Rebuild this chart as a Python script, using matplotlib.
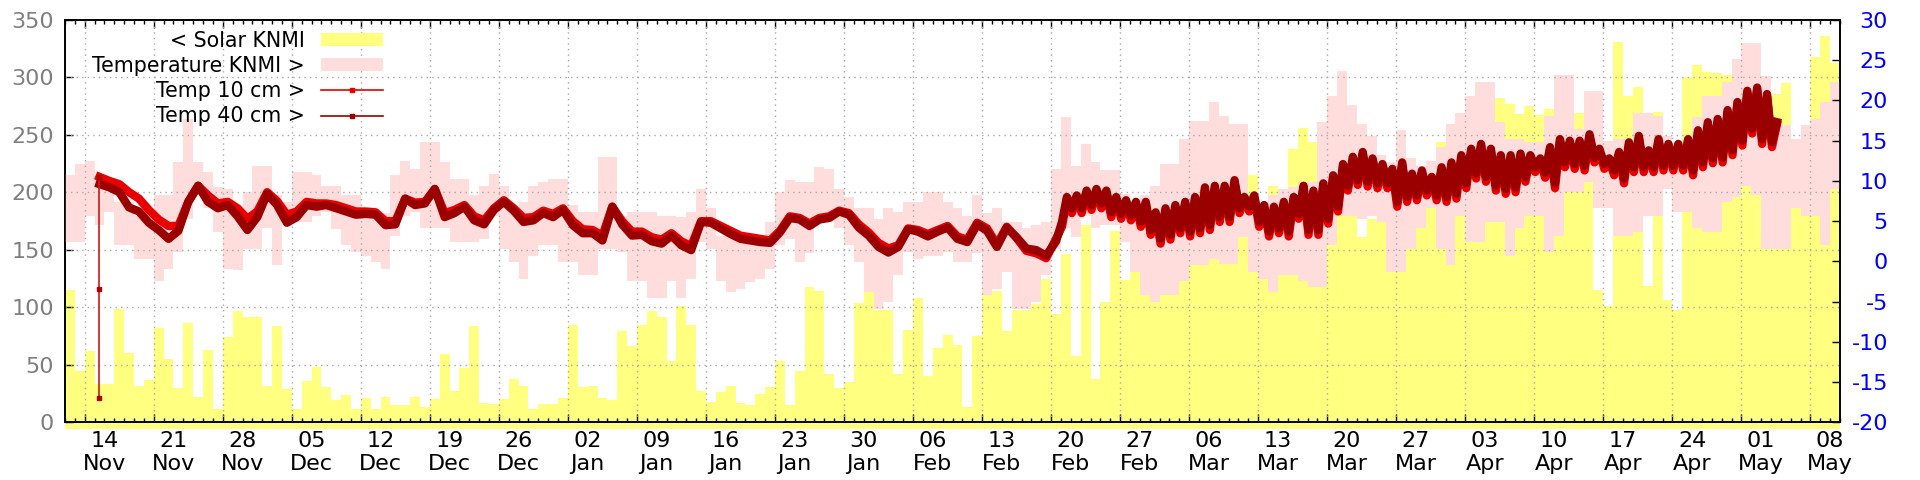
import numpy as np
import matplotlib
matplotlib.use('Agg')
import matplotlib.pyplot as plt
import matplotlib.dates as mdates
import matplotlib.transforms as mtransforms
from matplotlib.patches import Patch
from matplotlib.lines import Line2D

plt.rcParams['font.family'] = ['DejaVu Sans']
plt.rcParams['axes.unicode_minus'] = False

# daily values starting 2022-11-10
START = np.datetime64('2022-11-10')

# solar radiation KNMI (left axis), one value per day
solar = [
    115, 45, 62, 33, 33, 99, 60, 32, 37, 82,
    55, 30, 86, 22, 63, 12, 74, 97, 92, 92,
    32, 84, 29, 12, 36, 48, 31, 19, 24, 12,
    21, 12, 22, 15, 15, 22, 13, 20, 59, 27,
    47, 84, 17, 16, 20, 38, 32, 12, 16, 16,
    21, 85, 31, 32, 21, 19, 79, 66, 85, 97,
    92, 53, 101, 85, 27, 18, 26, 32, 17, 15,
    25, 31, 53, 15, 45, 118, 114, 42, 30, 35,
    104, 113, 98, 98, 42, 80, 108, 40, 65, 76,
    67, 13, 75, 114, 114, 79, 98, 98, 103, 125,
    94, 146, 58, 172, 38, 105, 166, 124, 145, 135,
    120, 125, 128, 130, 140, 155, 148, 145, 145, 165,
    215, 140, 206, 130, 238, 256, 244, 120, 160, 185,
    190, 161, 177, 177, 150, 253, 225, 223, 225, 244,
    258, 265, 250, 240, 275, 282, 277, 268, 275, 267,
    273, 250, 200, 269, 240, 115, 101, 331, 284, 292,
    119, 270, 106, 98, 300, 311, 305, 304, 302, 300,
    290, 280, 300, 286, 295, 235, 240, 318, 336, 313,
]

# air temperature KNMI, daily max / min (right axis)
temp_max = [
    10.7, 12.1, 12.5, 10.3, 9.0, 7.4, 7.4, 5.7, 5.7, 8.2,
    8.2, 12.3, 17.7, 12.3, 11.1, 9.2, 9.0, 6.6, 8.6, 11.9,
    11.9, 8.2, 7.4, 11.1, 11.1, 10.7, 9.4, 9.4, 8.2, 8.2,
    6.1, 5.7, 6.0, 10.7, 12.5, 11.5, 14.8, 14.8, 12.3, 10.3,
    10.3, 8.2, 9.4, 10.9, 9.4, 6.6, 7.4, 9.4, 9.9, 10.3,
    10.3, 7.0, 6.1, 6.1, 13.0, 13.0, 5.7, 6.1, 6.1, 6.1,
    5.7, 5.7, 5.5, 6.1, 9.0, 6.6, 3.2, 3.6, 3.4, 3.2,
    3.2, 4.9, 8.6, 10.1, 9.9, 9.9, 11.7, 11.5, 9.0, 8.0,
    6.6, 6.6, 5.3, 6.6, 6.1, 7.4, 7.4, 8.6, 8.6, 7.4,
    6.6, 5.7, 8.2, 6.0, 6.6, 4.9, 4.9, 4.1, 4.5, 4.9,
    11.5, 17.9, 11.9, 14.6, 12.3, 11.3, 11.3, 8.4, 6.6, 8.2,
    9.4, 12.1, 12.1, 15.2, 17.5, 17.5, 19.8, 18.1, 17.1, 17.1,
    7.4, 7.4, 8.2, 9.0, 9.2, 9.9, 9.9, 17.3, 20.6, 23.7,
    19.4, 17.1, 15.6, 13.2, 12.3, 16.3, 12.8, 11.9, 12.5, 14.2,
    17.1, 18.5, 20.6, 22.3, 22.3, 17.3, 15.2, 15.2, 14.8, 14.8,
    18.1, 23.2, 23.2, 16.5, 21.2, 21.2, 15.0, 15.2, 15.2, 18.5,
    18.5, 18.1, 15.6, 12.8, 12.8, 18.0, 20.6, 20.6, 22.3, 25.2,
    27.2, 27.2, 23.1, 16.9, 16.9, 15.2, 16.9, 17.7, 19.8, 22.3,
]
temp_min = [
    2.4, 2.4, 5.7, 4.5, 6.1, 2.0, 2.0, 0.3, 0.3, -2.5,
    -0.9, 1.2, 5.3, 8.2, 6.6, 3.6, -0.9, -1.1, 1.6, 1.6,
    4.1, -0.5, 4.9, 4.9, 4.9, 5.7, 6.1, 4.0, 2.0, 1.2,
    0.7, -0.1, -0.9, 3.2, 5.7, 6.1, 4.1, 4.1, 4.1, 2.4,
    2.4, 2.4, 2.8, 5.7, 1.6, -0.1, -2.2, 0.7, 2.0, 2.0,
    -0.1, -0.1, -1.7, -1.7, 1.6, 1.6, 1.2, -2.5, -2.5, -4.6,
    -4.6, -2.5, -4.6, -2.2, 2.4, 1.6, -2.5, -3.8, -3.4, -2.6,
    -2.2, -0.9, 2.0, 2.8, -0.1, 1.0, 5.3, 4.9, 4.1, 2.0,
    -0.1, -3.8, -5.9, -5.0, -1.7, 1.2, 0.3, 0.7, 0.7, 1.2,
    -0.1, -0.1, 1.0, -4.2, -3.4, -1.3, -5.9, -5.9, -5.0, -1.7,
    1.6, 4.1, 3.0, 5.7, 4.1, 4.5, 4.5, 2.4, -1.3, -4.2,
    -5.0, -4.2, -4.2, -2.5, -0.5, -0.5, 0.3, -0.3, -0.3, 3.0,
    -1.3, -2.2, -3.8, -1.7, -1.7, -2.5, -3.2, -3.2, 2.0, 5.7,
    5.7, 5.3, 5.7, 4.9, -1.3, -1.3, 1.6, 4.1, 6.6, 1.6,
    -0.5, 5.7, 2.4, 2.4, 4.9, 4.9, 0.7, 4.1, 5.7, 5.7,
    1.2, 3.2, 8.6, 8.6, 9.9, 6.6, 6.6, 3.2, 3.2, 3.6,
    5.7, 5.7, 9.0, 6.1, 6.1, 4.1, 3.6, 3.6, 7.4, 8.0,
    9.4, 8.2, 1.6, 1.6, 1.6, 6.6, 5.7, 5.7, 2.0, 9.0,
]

# soil temperature, one value per day from day 3 (13 Nov) to day 100
SOIL_DAILY_FIRST_DAY = 3
soil40_daily = [
    9.6, 9.2, 8.6, 6.7, 6.2, 4.8, 3.9,
    2.8, 3.8, 7.4, 9.4, 7.4, 6.6, 7.0, 5.6, 3.9, 5.5,
    8.4, 7.0, 4.8, 5.5, 7.0, 6.8, 7.0, 6.6, 6.2, 5.8,
    5.9, 5.8, 4.5, 4.6, 7.8, 7.0, 7.2, 9.0, 5.5, 6.0,
    6.8, 5.1, 4.6, 6.4, 7.4, 6.3, 4.9, 5.1, 6.0, 5.5,
    6.4, 4.5, 3.5, 3.5, 2.6, 6.8, 4.6, 3.2, 3.3, 2.5,
    2.2, 3.2, 2.0, 1.4, 4.9, 4.8, 4.1, 3.4, 2.8, 2.6,
    2.4, 2.3, 3.6, 5.4, 5.2, 4.4, 5.2, 5.4, 6.2, 5.8,
    4.2, 3.2, 1.8, 1.1, 1.8, 4.0, 3.7, 3.1, 3.7, 4.2,
    2.8, 2.4, 4.6, 3.8, 1.8, 4.2, 3.0, 1.6, 1.4, 0.7,
    2.5,
]
soil10_daily = [
    10.5, 10.0, 9.6, 8.6, 7.8, 6.4, 5.2,
    4.4, 4.4, 7.4, 9.4, 8.2, 7.2, 7.4, 6.6, 5.3, 6.2,
    8.6, 7.5, 5.8, 6.2, 7.4, 7.2, 7.2, 7.0, 6.6, 6.2,
    6.2, 6.1, 5.0, 5.0, 7.8, 7.3, 7.4, 9.0, 6.0, 6.4,
    7.0, 5.6, 5.1, 6.6, 7.6, 6.6, 5.4, 5.5, 6.3, 5.9,
    6.6, 5.0, 4.0, 3.9, 3.2, 6.8, 5.0, 3.7, 3.7, 3.0,
    2.7, 3.5, 2.5, 1.9, 5.0, 5.0, 4.4, 3.8, 3.2, 3.0,
    2.8, 2.6, 3.8, 5.6, 5.4, 4.7, 5.4, 5.6, 6.3, 6.0,
    4.6, 3.6, 2.3, 1.6, 2.0, 4.1, 3.9, 3.4, 3.9, 4.4,
    3.1, 2.7, 4.8, 4.1, 2.1, 4.3, 2.9, 1.3, 1.0, 0.4,
    2.8,
]
# first two (faulty) readings of the 10 cm sensor
soil10_glitch = [-17.0, -3.4]

# from 11 Mar the daily cycle shows: readings every 12 h (night low, afternoon high)
SOIL_HALFDAY_FIRST_DAY = 101.1
soil40_halfday = [
    4.9, 8.0, 6.6, 8.2, 6.6, 8.8, 7.0, 9.0, 7.2, 8.8, 6.1, 8.0, 5.9, 7.6, 5.7, 7.4,
    4.9, 7.4, 3.9, 6.1, 2.8, 6.6, 3.3, 7.0, 4.1, 7.4, 3.7, 8.0, 4.1, 9.2, 4.5, 9.4,
    5.5, 9.4, 5.5, 10.1, 6.6, 8.0, 6.8,
    8.2, 4.9, 7.0, 3.7, 6.8, 4.1, 7.4, 3.7, 8.0, 5.9, 9.4, 3.9, 8.8, 3.9, 9.7, 5.3,
    10.7, 6.8, 12.1, 9.4, 13.0, 10.1, 13.6, 9.9, 12.8, 9.7, 12.1, 9.7, 11.5, 7.4,
    12.3, 8.0, 10.9, 8.2, 11.3, 8.8, 10.5, 8.2, 11.7, 8.0, 12.3, 8.4, 13.2, 9.7,
    14.0, 10.9, 14.6, 10.5, 14.0, 9.4, 13.2, 9.0, 13.2, 9.2, 13.4, 10.5, 13.2, 11.7,
    12.8, 11.0,
    14.2, 9.7, 15.2, 12.3, 15.0, 12.1, 15.0, 11.9, 15.8, 12.9, 14.0, 12.1, 12.8, 11.3,
    13.6, 10.3, 14.8, 11.7, 15.6, 11.7, 13.8, 11.7, 15.2, 11.9, 14.6, 11.9, 14.6, 11.9,
    15.2, 11.3, 16.3, 12.3, 17.3, 12.8, 17.7, 12.9, 18.8, 13.8, 19.8, 15.0, 21.2, 16.5,
    21.6, 15.2, 20.8, 14.8, 17.3,
]
soil10_halfday = [
    4.3, 7.7, 6.0, 7.9, 6.0, 8.5, 6.4, 8.7, 6.6, 8.5, 5.5, 7.7, 5.3, 7.3, 5.1, 7.1,
    4.3, 7.1, 3.3, 5.8, 2.2, 6.3, 2.7, 6.7, 3.5, 7.1, 3.1, 7.7, 3.5, 8.9, 3.9, 9.1,
    4.9, 9.1, 4.9, 9.8, 6.0, 7.7, 6.2,
    7.9, 4.3, 6.7, 3.1, 6.5, 3.5, 7.1, 3.1, 7.7, 5.3, 9.1, 3.3, 8.5, 3.3, 9.4, 4.7,
    10.4, 6.2, 11.8, 8.8, 12.7, 9.5, 13.3, 9.3, 12.5, 9.1, 11.8, 9.1, 11.2, 6.8,
    12.0, 7.4, 10.6, 7.6, 11.0, 8.2, 10.2, 7.6, 11.4, 7.4, 12.0, 7.8, 12.9, 9.1,
    13.7, 10.3, 14.3, 9.9, 13.7, 8.8, 12.9, 8.4, 12.9, 8.6, 13.1, 9.9, 12.9, 11.1,
    12.5, 10.4,
    13.9, 9.1, 14.9, 11.7, 14.7, 11.5, 14.7, 11.3, 15.5, 12.3, 13.7, 11.5, 12.5, 10.7,
    13.3, 9.7, 14.5, 11.1, 15.3, 11.1, 13.5, 11.1, 14.9, 11.3, 14.3, 11.3, 14.3, 11.3,
    14.9, 10.7, 16.0, 11.7, 17.0, 12.2, 17.4, 12.3, 18.5, 13.2, 19.5, 14.4, 20.9, 15.9,
    21.3, 14.6, 20.5, 14.2, 17.0,
]

solar_ticks = [0, 50, 100, 150, 200, 250, 300, 350]
temp_ticks = [-20, -15, -10, -5, 0, 5, 10, 15, 20, 25, 30]

YELLOW = '#ffff80'
PINK = '#ffdddd'
RED = '#e80000'
DARKRED = '#9b0000'
GRIDC = '#a8a8a8'

base = mdates.date2num(START)
day_edges = base + np.arange(len(solar) + 1)
t_daily = base + SOIL_DAILY_FIRST_DAY + 0.5 + np.arange(len(soil40_daily))
t_half = base + SOIL_HALFDAY_FIRST_DAY + 0.5 * np.arange(len(soil40_halfday))
t_soil = np.concatenate([t_daily, t_half])
soil40 = np.concatenate([soil40_daily, soil40_halfday])
soil10 = np.concatenate([soil10_daily, soil10_halfday])


def closed(vals):
    #repeat last value so the final step reaches the end of the day
    return np.append(vals, vals[-1])


fig = plt.figure(figsize=(19.2, 4.8), dpi=100)
ax = fig.add_axes([65 / 1920, 57.7 / 480, 1775 / 1920, 402.3 / 480])

#solar in the back, spills a little below the axis like the original
ax.fill_between(day_edges, closed(solar), -6, step='post', color=YELLOW,
                lw=0, clip_on=False, zorder=1)
ax.set_ylim(0, 350)
ax.set_xlim(day_edges[0], day_edges[-1])
ax.set_yticks(solar_ticks)
ax.tick_params(axis='y', which='both', direction='in', length=5.8, width=1,
               left=True, right=False, labelsize=16, labelcolor='#7f7f7f', pad=8)

long_ticks = mdates.date2num(np.arange(np.datetime64('2022-11-12'),
                                       np.datetime64('2023-05-10'),
                                       np.timedelta64(7, 'D')))
label_ticks = mdates.date2num(np.arange(np.datetime64('2022-11-14'),
                                        np.datetime64('2023-05-10'),
                                        np.timedelta64(7, 'D')))
ax.set_xticks(long_ticks)
ax.xaxis.set_minor_locator(mdates.DayLocator())
ax.tick_params(axis='x', which='major', direction='in', length=5.8, width=1,
               top=True, bottom=True, labelbottom=False)
ax.tick_params(axis='x', which='minor', direction='in', length=3, width=1,
               top=True, bottom=True)

#date labels sit two days right of the long ticks
sec = ax.secondary_xaxis('bottom')
sec.set_xticks(label_ticks)
sec.xaxis.set_major_formatter(mdates.DateFormatter('%d\n%b'))
sec.tick_params(length=0, pad=6, labelsize=16, labelcolor='black')
sec.spines['bottom'].set_visible(False)

for sp in ax.spines.values():
    sp.set_linewidth(1.2)

#temperatures on the right axis
ax2 = ax.twinx()
ax2.set_ylim(-20, 30)
ax2.set_yticks(temp_ticks)
ax2.tick_params(axis='y', direction='in', length=5.8, width=1, labelsize=16,
                labelcolor='#0000ff', pad=34.5)
for lab in ax2.get_yticklabels():
    lab.set_horizontalalignment('right')
for sp in ax2.spines.values():
    sp.set_linewidth(1.2)

ax2.fill_between(day_edges, closed(temp_min), closed(temp_max), step='post',
                 color=PINK, lw=0, zorder=1)

#dotted grid drawn above the fills
for v in long_ticks:
    ax2.axvline(v, color=GRIDC, lw=1.0, ls=(0, (1, 3)), zorder=2)
hgrid = mtransforms.blended_transform_factory(ax2.transAxes, ax.transData)
for s in solar_ticks[1:-1]:
    ax2.plot([0, 1], [s, s], transform=hgrid, color=GRIDC, lw=1.0,
             ls=(0, (1, 3)), zorder=2)

ax2.plot(t_soil, soil10, color=RED, lw=6, solid_joinstyle='round', zorder=3)
ax2.plot(t_soil, soil40, color=DARKRED, lw=6, solid_joinstyle='round', zorder=4)
t_glitch = t_daily[0] - 0.1
ax2.plot([t_glitch] * 3, soil10_glitch + [soil10[0]], color='#cc1a1a', lw=1.2,
         marker='s', ms=3.5, mfc='#b00000', mec='#b00000', zorder=5)

handles = [
    Patch(facecolor=YELLOW, edgecolor='none'),
    Patch(facecolor=PINK, edgecolor='none'),
    Line2D([], [], color=RED, lw=1.2, marker='s', ms=3.5),
    Line2D([], [], color=DARKRED, lw=1.2, marker='s', ms=3.5),
]
labels = ['< Solar KNMI', 'Temperature KNMI >', 'Temp 10 cm >', 'Temp 40 cm >']
ax2.legend(handles, labels, loc='upper right', bbox_to_anchor=(383 / 1920, 1 - 31 / 480),
           bbox_transform=fig.transFigure, frameon=False, markerfirst=False,
           fontsize=14.8, handlelength=3.0, handleheight=0.6, handletextpad=0.8,
           labelspacing=0.25, borderpad=0, borderaxespad=0)

fig.savefig('out.png', dpi=100)
